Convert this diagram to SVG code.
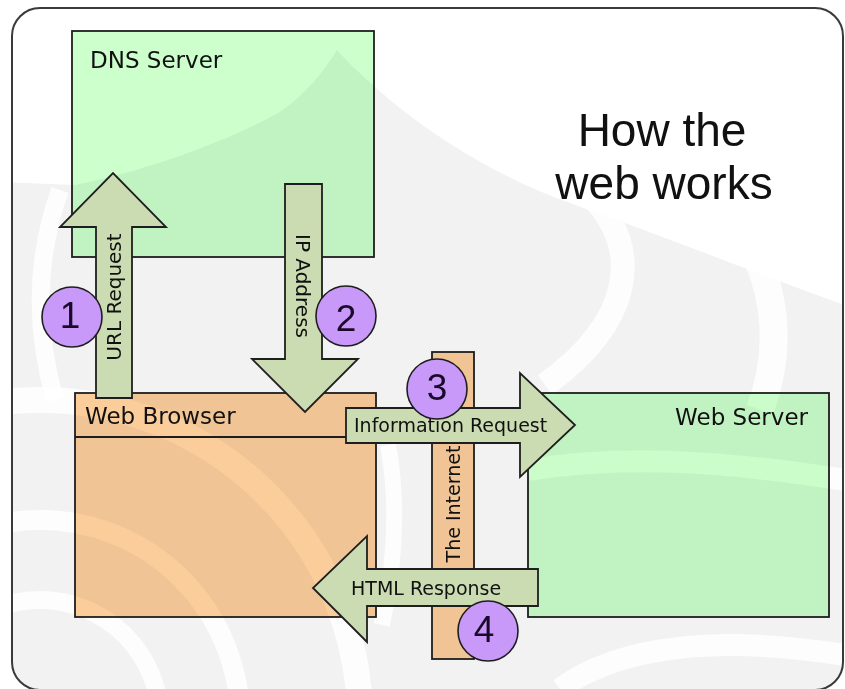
<svg xmlns="http://www.w3.org/2000/svg" width="845" height="689" viewBox="0 0 845 689">
<defs>
<clipPath id="frameClip"><rect x="12" y="8" width="831" height="682" rx="28" ry="28"/></clipPath>
</defs>
<style>
.box{stroke:#1e1e1e;stroke-width:1.8;mix-blend-mode:multiply}
.green{fill:#ccffcc}
.orange{fill:#fdcf9c}
.arrow{fill:#cbdcb2;stroke:#1e1e1e;stroke-width:1.8;stroke-linejoin:miter}
.badge{fill:#c999fa;stroke:#1e1e1e;stroke-width:1.6}
.lbl{font-family:"DejaVu Sans",Verdana,sans-serif;fill:#111111}
.num{font-family:"Liberation Sans",Arial,sans-serif;font-size:37px;fill:#1a0a2a;text-anchor:middle}
.title{font-family:"Liberation Sans",Arial,sans-serif;font-size:46px;fill:#111111;text-anchor:middle}
.band{fill:none;stroke:#ffffff;stroke-opacity:0.8}
</style>
<rect x="0" y="0" width="845" height="689" fill="#ffffff"/>
<g id="background" clip-path="url(#frameClip)">
<rect x="0" y="0" width="845" height="689" fill="#f2f2f2"/>
<path fill="#ffffff" d="M0,0 H845 V305 C800,290 700,250 570,203 C500,178 440,140 400,108 C380,92 350,65 337,50 C325,70 305,95 280,112 C230,140 150,170 75,185 L0,182 Z"/>
<g class="band">
<circle cx="40" cy="720" r="120" stroke-width="18"/>
<circle cx="40" cy="720" r="200" stroke-width="20"/>
<circle cx="40" cy="720" r="320" stroke-width="26"/>
<path d="M60,190 C35,260 35,330 55,400" stroke-width="18"/>
<path d="M595,200 C640,250 635,320 545,385" stroke-width="24"/>
<path d="M700,185 C770,240 790,330 760,410" stroke-width="28"/>
<path d="M388,445 C398,500 396,560 382,625" stroke-width="16"/>
<path d="M528,470 C620,455 720,460 845,480" stroke-width="22"/>
<path d="M560,689 C620,645 720,635 845,655" stroke-width="22"/>
</g>
</g>
<rect id="frame" x="12" y="8" width="831" height="682" rx="28" ry="28" fill="none" stroke="#3a3a3a" stroke-width="2"/>

<g id="title">
<text class="title" x="662" y="146">How the</text>
<text class="title" x="664" y="199">web works</text>
</g>

<g id="dns-server">
<rect class="box green" x="72" y="31" width="302" height="226"/>
<text class="lbl" x="90" y="68" font-size="23">DNS Server</text>
</g>

<g id="web-browser">
<rect class="box orange" x="75" y="393" width="301" height="224"/>
<line x1="75" y1="437" x2="376" y2="437" stroke="#1e1e1e" stroke-width="1.8"/>
<text class="lbl" x="85" y="424" font-size="23">Web Browser</text>
</g>

<g id="web-server">
<rect class="box green" x="528" y="393" width="301" height="224"/>
<text class="lbl" x="808" y="425" font-size="23" text-anchor="end">Web Server</text>
</g>

<g id="the-internet">
<rect class="box orange" x="432" y="352" width="42" height="307"/>
<text class="lbl" font-size="19" text-anchor="middle" transform="translate(460,504) rotate(-90)">The Internet</text>
</g>

<g id="connectors">
<g id="url-request">
<polygon class="arrow" points="96,398 96,227 60,227 113,173 166,227 132,227 132,398"/>
<text class="lbl" font-size="20" text-anchor="middle" transform="translate(121,297) rotate(-90)">URL Request</text>
</g>
<g id="ip-address">
<polygon class="arrow" points="285,184 322,184 322,359 358,359 305,412 252,359 285,359"/>
<text class="lbl" font-size="20" text-anchor="middle" transform="translate(296,286) rotate(90)">IP Address</text>
</g>
<g id="information-request">
<polygon class="arrow" points="346,408 520,408 520,373 575,425 520,477 520,443 346,443"/>
<text class="lbl" x="354" y="432" font-size="19">Information Request</text>
</g>
<g id="html-response">
<polygon class="arrow" points="538,569 538,606 367,606 367,642 313,588 367,536 367,569"/>
<text class="lbl" x="351" y="595" font-size="19">HTML Response</text>
</g>
</g>

<g id="step-1">
<circle class="badge" cx="72" cy="317" r="30"/>
<text class="num" x="70" y="328">1</text>
</g>
<g id="step-2">
<circle class="badge" cx="346" cy="316" r="30"/>
<text class="num" x="346" y="331">2</text>
</g>
<g id="step-3">
<circle class="badge" cx="437" cy="389" r="30"/>
<text class="num" x="437" y="400">3</text>
</g>
<g id="step-4">
<circle class="badge" cx="488" cy="631" r="30"/>
<text class="num" x="484" y="642">4</text>
</g>
</svg>
